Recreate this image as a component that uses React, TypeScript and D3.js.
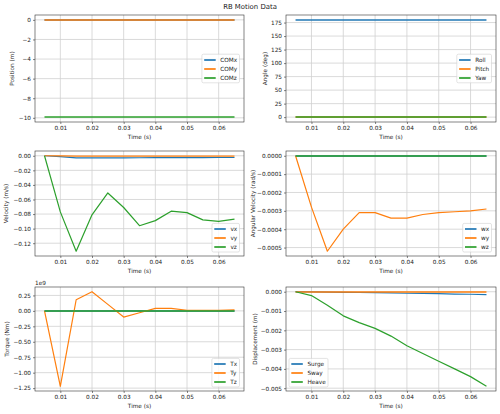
import { useEffect, useRef } from 'react';
import * as d3 from 'd3';

// ── Data ────────────────────────────────────────────────────
const TIME = [0.005, 0.01, 0.015, 0.02, 0.025, 0.03, 0.035, 0.04, 0.045, 0.05, 0.055, 0.06, 0.065];
const TIME_TICKS = [0.01, 0.02, 0.03, 0.04, 0.05, 0.06];

const COM_X = [0, 0, 0, 0, 0, 0, 0, 0, 0, 0, 0, 0, 0];
const COM_Y = [0, 0, 0, 0, 0, 0, 0, 0, 0, 0, 0, 0, 0];
const COM_Z = [-9.93, -9.93, -9.93, -9.93, -9.93, -9.93, -9.93, -9.93, -9.93, -9.93, -9.93, -9.93, -9.93];
const POS_TICKS = [0, -2, -4, -6, -8, -10];

const ROLL  = [180, 180, 180, 180, 180, 180, 180, 180, 180, 180, 180, 180, 180];
const PITCH = [0, 0, 0, 0, 0, 0, 0, 0, 0, 0, 0, 0, 0];
const YAW   = [0, 0, 0, 0, 0, 0, 0, 0, 0, 0, 0, 0, 0];
const ANG_TICKS = [0, 25, 50, 75, 100, 125, 150, 175];

const VX = [0, -0.0012, -0.0028, -0.003, -0.0029, -0.0028, -0.0027, -0.0026, -0.0026, -0.0025, -0.0025, -0.0024, -0.0024];
const VY = [0, -0.0002, -0.0004, -0.0005, -0.0005, -0.0006, -0.0006, -0.0006, -0.0006, -0.0006, -0.0006, -0.0006, -0.0006];
const VZ = [0, -0.077, -0.131, -0.081, -0.051, -0.071, -0.096, -0.089, -0.076, -0.078, -0.088, -0.09, -0.087];
const VEL_TICKS = [0, -0.02, -0.04, -0.06, -0.08, -0.1, -0.12];

const WX = [0, 0, 0, 0, 0, 0, 0, 0, 0, 0, 0, 0, 0];
const WY = [0, -0.00028, -0.00052, -0.0004, -0.00031, -0.00031, -0.00034, -0.00034, -0.00032, -0.00031, -0.000305, -0.0003, -0.00029];
const WZ = [0, 0, 0, 0, 0, 0, 0, 0, 0, 0, 0, 0, 0];
const AVEL_TICKS = [0, -0.0001, -0.0002, -0.0003, -0.0004, -0.0005];

const TX = [0, 0, 0, 0, 0, 0, 0, 0, 0, 0, 0, 0, 0];
const TY = [0, -1.22e9, 0.18e9, 0.31e9, 0.105e9, -0.1e9, -0.03e9, 0.04e9, 0.04e9, 0.01e9, 0.01e9, 0.01e9, 0.015e9];
const TZ = [0, 0, 0, 0, 0, 0, 0, 0, 0, 0, 0, 0, 0];
const TORQUE_TICKS = [0.25e9, 0, -0.25e9, -0.5e9, -0.75e9, -1e9, -1.25e9];

const SURGE = [0, -0.00001, -0.00002, -0.00003, -0.00004, -0.00005, -0.00006, -0.00008, -0.00009, -0.0001, -0.00012, -0.00013, -0.00015];
const SWAY  = [0, 0, 0, 0, 0, 0, 0, 0, 0, 0, 0, 0, 0];
const HEAVE = [0, -0.0002, -0.0007, -0.00125, -0.0016, -0.0019, -0.0023, -0.0028, -0.0032, -0.0036, -0.004, -0.0044, -0.0049];
const DISP_TICKS = [0, -0.001, -0.002, -0.003, -0.004, -0.005];

const COLORS = ['#1f77b4', '#ff7f0e', '#2ca02c'];
const FONT = 'DejaVu Sans, sans-serif';
const FS = 5.75;

const minus = (s: string) => s.replace(/-/g, '\u2212');

interface Panel {
  x: number; y: number; w: number; h: number;
  ylabel: string; ylabelX: number;
  names: string[]; series: number[][];
  ticks: number[]; fmt: (v: number) => string;
  legend: 'center right' | 'lower right' | 'lower left';
  offset?: string;
}

const PANELS: Panel[] = [
  { x: 35, y: 15, w: 209, h: 107, ylabel: 'Position (m)', ylabelX: 13.5,
    names: ['COMx', 'COMy', 'COMz'], series: [COM_X, COM_Y, COM_Z],
    ticks: POS_TICKS, fmt: d3.format('d'), legend: 'center right' },
  { x: 286, y: 15, w: 210, h: 107, ylabel: 'Angle (deg)', ylabelX: 267,
    names: ['Roll', 'Pitch', 'Yaw'], series: [ROLL, PITCH, YAW],
    ticks: ANG_TICKS, fmt: d3.format('d'), legend: 'center right' },
  { x: 35, y: 151, w: 209, h: 105, ylabel: 'Velocity (m/s)', ylabelX: 8,
    names: ['vx', 'vy', 'vz'], series: [VX, VY, VZ],
    ticks: VEL_TICKS, fmt: d3.format('.2f'), legend: 'lower right' },
  { x: 286, y: 151, w: 210, h: 105, ylabel: 'Angular Velocity (rad/s)', ylabelX: 254.7,
    names: ['wx', 'wy', 'wz'], series: [WX, WY, WZ],
    ticks: AVEL_TICKS, fmt: d3.format('.4f'), legend: 'lower right' },
  { x: 35, y: 287, w: 209, h: 104, ylabel: 'Torque (Nm)', ylabelX: 8.7,
    names: ['Tx', 'Ty', 'Tz'], series: [TX, TY, TZ],
    ticks: TORQUE_TICKS, fmt: v => d3.format('.2f')(v / 1e9), legend: 'lower right', offset: '1e9' },
  { x: 286, y: 287, w: 210, h: 104, ylabel: 'Displacement (m)', ylabelX: 257,
    names: ['Surge', 'Sway', 'Heave'], series: [SURGE, SWAY, HEAVE],
    ticks: DISP_TICKS, fmt: d3.format('.3f'), legend: 'lower left' },
];

function drawPanel(svg: d3.Selection<SVGSVGElement, unknown, null, undefined>, p: Panel) {
  const g = svg.append('g').attr('transform', `translate(${p.x},${p.y})`);

  // ── Scales (matplotlib-style 5% margins) ─────────────────
  const [t0, t1] = d3.extent(TIME) as [number, number];
  const tp = (t1 - t0) * 0.05;
  const x = d3.scaleLinear().domain([t0 - tp, t1 + tp]).range([0, p.w]);

  const [lo, hi] = d3.extent(p.series.flat()) as [number, number];
  const vp = (hi - lo) * 0.05;
  const y = d3.scaleLinear().domain([lo - vp, hi + vp]).range([p.h, 0]);

  // ── Grid ────────────────────────────────────────────────
  g.append('g').selectAll('line').data(TIME_TICKS).join('line')
    .attr('x1', d => x(d)).attr('x2', d => x(d)).attr('y1', 0).attr('y2', p.h)
    .attr('stroke', '#d0d0d0').attr('stroke-width', 0.8);
  g.append('g').selectAll('line').data(p.ticks).join('line')
    .attr('x1', 0).attr('x2', p.w).attr('y1', d => y(d)).attr('y2', d => y(d))
    .attr('stroke', '#d0d0d0').attr('stroke-width', 0.8);

  // ── Lines (flat ones snapped to the pixel grid, as matplotlib does) ──
  p.series.forEach((s, i) => {
    const flat = s.every(v => v === s[0]);
    const line = d3.line<number>()
      .x((_, k) => x(TIME[k]))
      .y(d => flat ? Math.round(y(d)) : y(d));
    g.append('path').datum(s)
      .attr('fill', 'none').attr('stroke', COLORS[i])
      .attr('stroke-width', flat ? 1.7 : 1.2).attr('stroke-linejoin', 'round')
      .attr('d', line);
  });

  // ── Frame + axes ────────────────────────────────────────
  g.append('rect').attr('width', p.w).attr('height', p.h)
    .attr('fill', 'none').attr('stroke', '#333').attr('stroke-width', 0.6);

  g.append('g')
    .attr('transform', `translate(0,${p.h})`)
    .call(d3.axisBottom(x).tickValues(TIME_TICKS).tickFormat(d3.format('.2f')).tickSize(2).tickPadding(2))
    .call(a => a.select('.domain').remove())
    .call(a => a.selectAll('line').attr('stroke', '#333').attr('stroke-width', 0.6))
    .call(a => a.selectAll('text').attr('fill', '#222').attr('font-size', FS).attr('font-family', FONT));

  g.append('g')
    .call(d3.axisLeft(y).tickValues(p.ticks).tickFormat(d => minus(p.fmt(d as number))).tickSize(2).tickPadding(2))
    .call(a => a.select('.domain').remove())
    .call(a => a.selectAll('line').attr('stroke', '#333').attr('stroke-width', 0.6))
    .call(a => a.selectAll('text').attr('fill', '#222').attr('font-size', FS).attr('font-family', FONT));

  g.append('text').attr('x', p.w / 2).attr('y', p.h + 16.5)
    .attr('text-anchor', 'middle').attr('font-size', FS).attr('font-family', FONT).attr('fill', '#222')
    .text('Time (s)');

  svg.append('text')
    .attr('transform', `translate(${p.ylabelX},${p.y + p.h / 2}) rotate(-90)`)
    .attr('text-anchor', 'middle').attr('font-size', FS).attr('font-family', FONT).attr('fill', '#222')
    .text(p.ylabel);

  if (p.offset) {
    g.append('text').attr('x', 0).attr('y', -2.5)
      .attr('font-size', FS).attr('font-family', FONT).attr('fill', '#222').text(p.offset);
  }

  // ── Legend ──────────────────────────────────────────────
  const leg = g.append('g');
  const box = leg.append('rect');
  const bh = 28.6;
  let ly = p.h - 4 - bh;
  if (p.legend === 'center right') ly = (p.h - bh) / 2;
  const labels = p.names.map((n, i) => {
    // keep handle rows on whole pixels so they read as solid colour
    const cy = Math.round(p.y + ly + 5.3 + i * 9) - p.y - ly;
    leg.append('line').attr('x1', 2.3).attr('x2', 13.8).attr('y1', cy).attr('y2', cy)
      .attr('stroke', COLORS[i]).attr('stroke-width', 1.7);
    return leg.append('text').attr('x', 18.4).attr('y', cy + 2)
      .attr('font-size', FS).attr('font-family', FONT).attr('fill', '#222').text(n);
  });
  const tw = d3.max(labels, t => (t.node() as SVGTextElement).getComputedTextLength()) ?? 15;
  const bw = 18.4 + tw + 2.3;
  box.attr('width', bw).attr('height', bh).attr('rx', 1.5)
    .attr('fill', 'white').attr('fill-opacity', 0.8).attr('stroke', '#d0d0d0').attr('stroke-width', 0.6);
  const lx = p.legend === 'lower left' ? 3 : p.w - 4.5 - bw;
  leg.attr('transform', `translate(${lx},${ly})`);
}

export default function App() {
  const svgRef = useRef<SVGSVGElement>(null);

  useEffect(() => {
    if (!svgRef.current) return;
    const svg = d3.select(svgRef.current);
    svg.selectAll('*').remove();

    svg.append('rect').attr('width', 500).attr('height', 414).attr('fill', 'white');
    svg.append('text').attr('x', 250).attr('y', 8.5)
      .attr('text-anchor', 'middle').attr('font-size', 6.9).attr('font-family', FONT).attr('fill', '#222')
      .text('RB Motion Data');

    PANELS.forEach(p => drawPanel(svg, p));
  }, []);

  return (
    <svg ref={svgRef} width={500} height={414}
      style={{ position: 'absolute', left: 0, top: 0, display: 'block' }} />
  );
}
